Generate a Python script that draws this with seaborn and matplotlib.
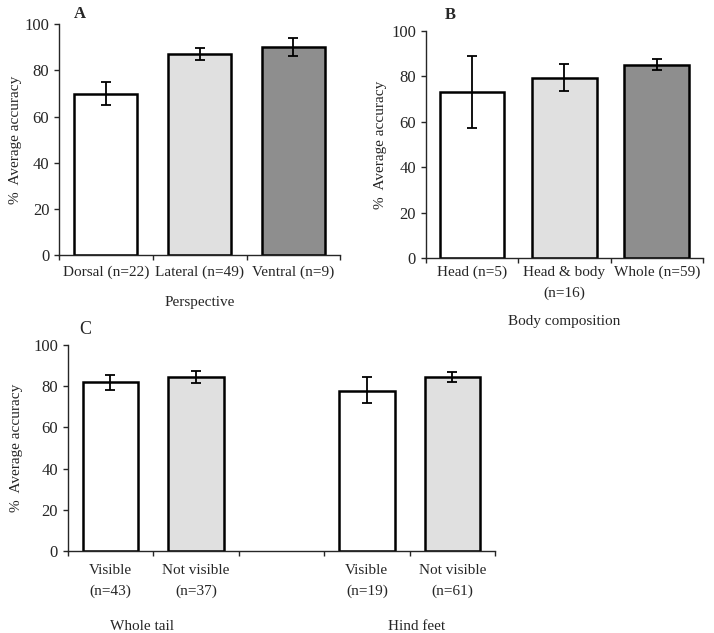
import numpy as np
import pandas as pd
import seaborn as sns
import matplotlib.pyplot as plt

# Panel A: perspective
persp_labels = ["Dorsal (n=22)", "Lateral (n=49)", "Ventral (n=9)"]
persp_mean = [69.7, 87.3, 90.2]
persp_lo = [65.0, 84.5, 86.4]
persp_hi = [75.1, 89.9, 93.9]

# Panel B: body composition
body_labels = ["Head (n=5)", "Head & body\n(n=16)", "Whole (n=59)"]
body_mean = [72.9, 79.3, 84.8]
body_lo = [57.4, 73.5, 82.6]
body_hi = [88.9, 85.5, 87.4]

# Panel C: tail / hind feet visibility (empty slot in the middle)
vis_labels = ["Visible\n(n=43)", "Not visible\n(n=37)", "", "Visible\n(n=19)", "Not visible\n(n=61)"]
vis_mean = [82.2, 84.3, np.nan, 77.7, 84.6]
vis_lo = [78.3, 81.7, np.nan, 71.7, 82.0]
vis_hi = [85.4, 87.5, np.nan, 84.6, 86.7]

WHITE, LIGHT, DARK = "#ffffff", "#e0e0e0", "#8e8e8e"
FS = 11

sns.set_style("ticks")
plt.rcParams["font.family"] = ["Liberation Serif", "DejaVu Serif"]
plt.rcParams["font.size"] = FS

fig = plt.figure(figsize=(7.14, 6.33), dpi=100)
axA = fig.add_axes([0.0826, 0.597, 0.394, 0.3646])
axB = fig.add_axes([0.5962, 0.592, 0.3884, 0.3595])
axC = fig.add_axes([0.0948, 0.1295, 0.5985, 0.3255])


def draw(ax, labels, mean, lo, hi, colors, width, pad, ypad):
    df = pd.DataFrame({"cat": labels, "val": mean})
    df_plot = df.dropna()
    sns.barplot(data=df_plot, x="cat", y="val", hue="cat", order=labels,
                hue_order=list(df_plot["cat"]), palette=colors, legend=False,
                width=width, edgecolor="black", linewidth=1.8,
                errorbar=None, ax=ax)
    m = np.array(mean, dtype=float)
    yerr = np.vstack([m - np.array(lo, dtype=float), np.array(hi, dtype=float) - m])
    ax.errorbar(np.arange(len(labels)), m, yerr=yerr, fmt="none",
                ecolor="black", elinewidth=1.3, capsize=3.5, capthick=1.3)
    ax.set_ylim(0, 100)
    ax.set_xlim(-0.5, len(labels) - 0.5)
    ax.set_yticks([0, 20, 40, 60, 80, 100])
    ax.set_xticks(np.arange(len(labels)))
    ax.set_xticklabels(labels, linespacing=1.75)
    ax.set_xticks(np.arange(len(labels) + 1) - 0.5, minor=True)
    ax.tick_params(axis="x", which="major", length=0, pad=pad, labelsize=FS)
    ax.tick_params(axis="x", which="minor", length=3.5, width=1.0, direction="out")
    ax.tick_params(axis="y", length=3.5, width=1.0, direction="out", labelsize=12)
    for s in ["left", "bottom"]:
        ax.spines[s].set_linewidth(1.0)
    sns.despine(ax=ax)
    ax.set_ylabel("%  Average accuracy", fontsize=FS, labelpad=ypad)


draw(axA, persp_labels, persp_mean, persp_lo, persp_hi, [WHITE, LIGHT, DARK], 0.67, 7.5, 1.5)
axA.set_xlabel("Perspective", fontsize=FS, labelpad=12)

draw(axB, body_labels, body_mean, body_lo, body_hi, [WHITE, LIGHT, DARK], 0.70, 5.5, 3)
axB.set_xlabel("Body composition", fontsize=FS, labelpad=11)

draw(axC, vis_labels, vis_mean, vis_lo, vis_hi, [WHITE, LIGHT, WHITE, LIGHT], 0.65, 9, 7.5)
axC.set_xlabel("")

fig.text(0.112, 0.978, "A", fontsize=12, fontweight="bold", ha="center", va="center")
fig.text(0.630, 0.976, "B", fontsize=12, fontweight="bold", ha="center", va="center")
fig.text(0.119, 0.479, "C", fontsize=13, ha="center", va="center")
fig.text(142 / 714, 1 - 626 / 633, "Whole tail", fontsize=FS, ha="center", va="center")
fig.text(417 / 714, 1 - 626 / 633, "Hind feet", fontsize=FS, ha="center", va="center")

fig.savefig("out.png", dpi=100)
